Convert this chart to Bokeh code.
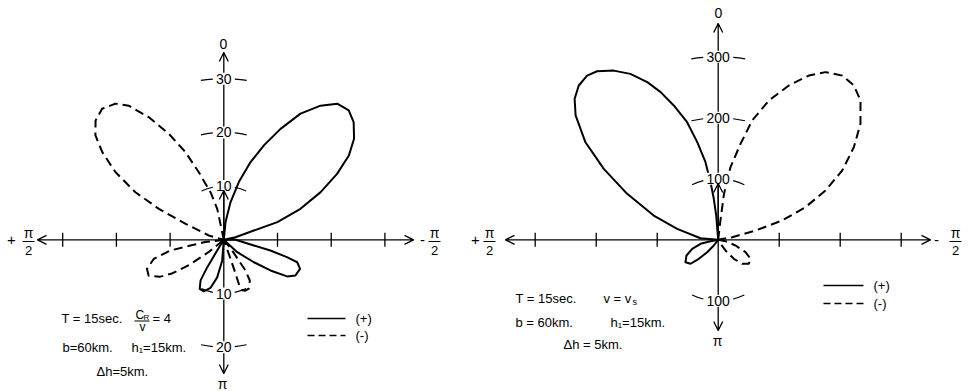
import math
from bokeh.plotting import figure
from bokeh.layouts import row
from bokeh.models import Arrow, OpenHead
from bokeh.core.properties import value
from bokeh.embed import file_html
from bokeh.resources import INLINE

NAN = float("nan")

# Angles in degrees measured from the "0" direction (up), positive toward "+pi/2" (left),
# negative toward "-pi/2" (right); radius in the panel's plot units. NaN separates lobes.

# ---- left panel: T=15 s, C_R/v = 4 ----
LEFT_PLUS_THETA = [-2, -5.5, -10.1, -14.6, -19, -23, -27.1, -31.3, -35.8, -39.8, -44, -47.9, -52.2, -56,
                   -59.8, -63.8, -68, -71.7, -72.8, -77.6, -80, NAN,
                   -88, -90, -100.7, -102.9, -105.4, -107, -110.9, -116.5, -120.1, -123.3, -126.7, -132.7, -138, NAN,
                   147, 148.3, 148.9, 150.2, 153.9, 158.8, 164.5, 170, 175.5, 178]
LEFT_PLUS_R = [0, 3.3, 7.1, 11.1, 15.3, 19.1, 23.2, 27.5, 30.8, 33.0, 33.5, 32.6, 30.7, 28.1,
               24.4, 20.1, 15.4, 10.5, 5.85, 2.23, 0, NAN,
               0, 2.2, 5.7, 8.9, 12.2, 14.3, 15.2, 14.9, 13.6, 10.4, 7.0, 3.4, 0, NAN,
               0, 2.3, 6.0, 8.7, 10.2, 10.3, 9.3, 7.1, 3.9, 0]
LEFT_MINUS_THETA = [10, 12, 15.6, 20.3, 23.6, 27.4, 31.5, 35.3, 38.5, 42.9, 47.1, 50.9, 54.2, 58, 61.7, 64.5,
                    67.3, 74, 78, NAN,
                    94, 97, 99.7, 101.3, 105.2, 110.7, 115.5, 120, 123, 126, 129, 131, NAN,
                    -140, -142, -144.1, -144.8, -147.4, -152.9, -157, -160, -161.2, -160.8, -160.5, -162]
LEFT_MINUS_R = [0, 5.9, 9.2, 13.4, 17.8, 22.2, 26.8, 30.6, 32.4, 33.3, 32.6, 30.8, 27.9, 23.8, 18.7, 13.4,
                7.7, 2.9, 0, NAN,
                0, 3.5, 6.3, 10.1, 13.5, 15.3, 15.5, 13.8, 11.5, 8.0, 3.5, 0, NAN,
                0, 2.5, 4.8, 7.0, 9.0, 10.2, 10.3, 10.0, 8.7, 6.4, 3.7, 0]
LEFT_UP_LABELS = [10, 20, 30]
LEFT_DOWN_LABELS = [10, 20]
LEFT_AXIS_TICKS = [10, 20, 30]

# ---- right panel: T=15 s, v = v_s ----
RIGHT_PLUS_THETA = [0, 4.7, 6.1, 7.6, 9.3, 12.1, 14.8, 18.3, 21.3, 24.2, 27.9, 31.7, 35.7, 38.6, 42.1, 45.5,
                    48.9, 53.7, 58.2, 63.2, 69.4, 75, 84.9, 88, NAN,
                    98, 100.3, 102.8, 109.1, 116.3, 124.4, 130.9, 134.4, 138.4, 142.3, 145]
RIGHT_PLUS_R = [0, 40, 67.6, 95.2, 128.9, 163.7, 199.4, 231.9, 259.8, 283.4, 307.8, 326, 340.2, 344.5, 340.9, 330,
                310.2, 270, 220.7, 167.2, 112.9, 69.6, 29.1, 0, NAN,
                0, 12.8, 29.7, 45.1, 58, 65, 60, 44.5, 27.2, 11.8, 0]
RIGHT_MINUS_THETA = [-5, -6.5, -7.2, -9.6, -13.1, -15.9, -20, -24.6, -28.9, -32.6, -37.1, -41.3, -45.6, -50.8,
                     -55.7, -60.8, -65.3, -69.5, -73.2, -76, -79.4, -82, NAN,
                     -98, -100.8, -108.1, -114.4, -120.4, -128, -135, -140.5, -145.6, -150, -152]
RIGHT_MINUS_R = [0, 31.8, 76, 120.7, 161.6, 203.4, 243, 278.2, 307.6, 326.3, 337.4, 336.8, 326.5, 301,
                 269.2, 232.9, 193.6, 152.7, 109.6, 63, 23.4, 0, NAN,
                 0, 12.2, 29.9, 49.2, 61.5, 63.8, 55.6, 40.3, 21.2, 7.6, 0]
RIGHT_UP_LABELS = [100, 200, 300]
RIGHT_DOWN_LABELS = [100]
RIGHT_AXIS_TICKS = [100, 200, 300]

FONT = value("Liberation Sans")
H = 391
PAGE_TOP = 0


def polar_xy(thetas, rs):
    xs, ys = [], []
    for t, r in zip(thetas, rs):
        if t != t or r != r:
            xs.append(NAN)
            ys.append(NAN)
        else:
            a = math.radians(t)
            xs.append(-r * math.sin(a))
            ys.append(r * math.cos(a))
    return xs, ys


def build(cfg):
    s, ox, oy, fl, w = cfg["s"], cfg["ox"], cfg["oy"], cfg["fl"], cfg["w"]

    def P(px, py):
        return (px - ox) / s, (oy - py) / s

    x0, y1 = P(fl, PAGE_TOP)
    x1, y0 = P(fl + w, PAGE_TOP + H)
    p = figure(width=w, height=H, x_range=(x0, x1), y_range=(y0, y1),
               output_backend="svg", toolbar_location=None, min_border=0,
               outline_line_color=None, background_fill_color="white",
               border_fill_color="white")
    p.axis.visible = False
    p.grid.visible = False

    k = dict(line_color="black", line_width=1.3)
    xl = P(cfg["ltip"], 0)[0]
    xr = P(cfg["rtip"], 0)[0]
    yt = P(0, cfg["ttip"])[1]
    yb = P(0, cfg["btip"])[1]
    yi = P(0, cfg["itip"])[1]
    p.segment(x0=[xl, 0], y0=[0, yb], x1=[xr, 0], y1=[0, yt], **k)

    th = 7 / s
    tx = [-t for t in cfg["ticks"]] + list(cfg["ticks"])
    p.segment(x0=tx, y0=[-th] * len(tx), x1=tx, y1=[th] * len(tx), **k)

    # lobes
    xs, ys = polar_xy(cfg["plus_t"], cfg["plus_r"])
    p.line(xs, ys, line_color="black", line_width=2, line_join="round")
    xs, ys = polar_xy(cfg["minus_t"], cfg["minus_r"])
    p.line(xs, ys, line_color="black", line_width=2, line_dash="9 5", line_join="round")

    # short arcs beside radial labels
    g, L = cfg["gap"], 12
    for vals, base in ((cfg["up"], math.pi / 2), (cfg["down"], -math.pi / 2)):
        for r in vals:
            rp = r * s
            a1, a2 = g / rp, (g + L) / rp
            p.arc(x=[0, 0], y=[0, 0], radius=[r, r],
                  start_angle=[base + a1, base - a2], end_angle=[base + a2, base - a1],
                  line_color="black", line_width=1.2)

    # radial labels with white background (interrupt the vertical axis)
    lab_y = list(cfg["up"]) + [-v for v in cfg["down"]]
    lab_t = [str(v) for v in cfg["up"]] + [str(v) for v in cfg["down"]]
    p.text(x=[0] * len(lab_y), y=lab_y, text=lab_t, text_font=FONT, text_font_size="14px",
           text_align="center", text_baseline="middle", background_fill_color="white",
           padding=1)

    # inner small arrow up from origin
    p.segment(x0=[0], y0=[0], x1=[0], y1=[yi], **k)

    # arrow heads
    d = 3 / s
    for (xa, ya, xb, yb2) in ((xl + d, 0, xl, 0), (xr - d, 0, xr, 0),
                               (0, yt - d, 0, yt), (0, yb + d, 0, yb), (0, yi - d, 0, yi)):
        p.add_layout(Arrow(end=OpenHead(size=9, line_width=1.3, line_color="black"),
                           x_start=xa, y_start=ya, x_end=xb, y_end=yb2,
                           line_color="black", line_width=1.3))

    def txt(px, py, t, size="13px", align="left"):
        x, y = P(px, py)
        p.text(x=[x], y=[y], text=[t], text_font=FONT, text_font_size=size,
               text_align=align, text_baseline="middle", text_color="black")

    def seg(px0, py0, px1, py1, dash="solid", lw=1.3):
        a, b = P(px0, py0)
        c, e = P(px1, py1)
        p.segment(x0=[a], y0=[b], x1=[c], y1=[e], line_color="black", line_width=lw, line_dash=dash)

    # direction labels
    txt(cfg["top_lab"][0], cfg["top_lab"][1], "0", size="14px", align="center")
    txt(cfg["bot_lab"][0], cfg["bot_lab"][1], "π", size="14px", align="center")
    for sign, sx, fx in cfg["fracs"]:
        txt(sx, 239, sign, size="15px", align="center")
        txt(fx, 232, "π", size="14px", align="center")
        seg(fx - 6, 241, fx + 6, 241, lw=1.1)
        txt(fx, 250, "2", size="13px", align="center")

    for (px, py, t, size) in cfg["texts"]:
        txt(px, py, t, size=size)
    for (px0, px1, py, dash, t) in cfg["legend"]:
        seg(px0, py, px1, py, dash=dash, lw=1.6)
        txt(px1 + 10, py, t)
    for (a, b, c, e) in cfg["bars"]:
        seg(a, b, c, e, lw=1.1)
    return p


left_cfg = dict(
    s=5.37, ox=223.3, oy=239.3, fl=0, w=455,
    ltip=37, rtip=413, ttip=52, btip=373, itip=190,
    ticks=LEFT_AXIS_TICKS, up=LEFT_UP_LABELS, down=LEFT_DOWN_LABELS, gap=11,
    plus_t=LEFT_PLUS_THETA, plus_r=LEFT_PLUS_R, minus_t=LEFT_MINUS_THETA, minus_r=LEFT_MINUS_R,
    top_lab=(223, 43), bot_lab=(222, 383),
    fracs=[("+", 11, 28), ("-", 422, 434)],
    texts=[(61, 318, "T = 15sec.", "13px"),
           (135, 314, "C", "12px"), (143, 317, "R", "8px"),
           (139, 326, "v", "12px"),
           (152, 318, "= 4", "13px"),
           (62, 347, "b=60km.", "13px"),
           (131, 347, "h₁=15km.", "13px"),
           (96, 371, "Δh=5km.", "13px")],
    legend=[(307, 345, 318, "solid", "(+)"), (307, 345, 335, "7 4", "(-)")],
    bars=[(134, 320.5, 149, 320.5)],
)

right_cfg = dict(
    s=0.61, ox=717.7, oy=239.3, fl=455, w=514,
    ltip=505, rtip=930, ttip=23, btip=330, itip=183,
    ticks=RIGHT_AXIS_TICKS, up=RIGHT_UP_LABELS, down=RIGHT_DOWN_LABELS, gap=15,
    plus_t=RIGHT_PLUS_THETA, plus_r=RIGHT_PLUS_R, minus_t=RIGHT_MINUS_THETA, minus_r=RIGHT_MINUS_R,
    top_lab=(718, 12), bot_lab=(717, 340),
    fracs=[("+", 475, 489), ("-", 936, 955)],
    texts=[(515, 298, "T = 15sec.", "13px"),
           (603, 298, "v = v", "13px"), (632, 301, "s", "9px"),
           (515, 322, "b = 60km.", "13px"),
           (610, 322, "h₁=15km.", "13px"),
           (563, 344, "Δh = 5km.", "13px")],
    legend=[(823, 863, 285, "solid", "(+)"), (823, 863, 303, "7 4", "(-)")],
    bars=[],
)

layout = row(build(left_cfg), build(right_cfg))
open("out.html", "w").write(file_html(layout, INLINE))
